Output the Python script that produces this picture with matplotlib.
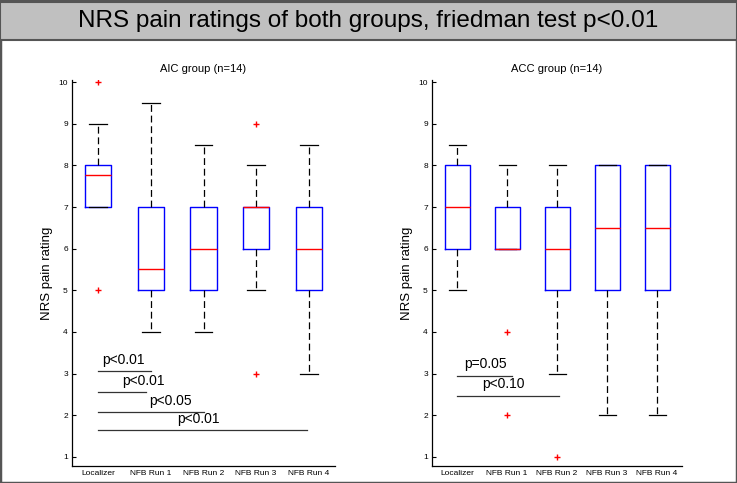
import numpy as np
import matplotlib
matplotlib.use("Agg")
import matplotlib.pyplot as plt
from matplotlib.patches import Rectangle

plt.rcParams['font.family'] = ['Liberation Sans', 'DejaVu Sans']

conditions = ["Localizer", "NFB Run 1", "NFB Run 2", "NFB Run 3", "NFB Run 4"]

# AIC group box statistics
aic_med = [7.77, 5.5, 6.0, 7.0, 6.0]
aic_q1 = [7.0, 5.0, 5.0, 6.0, 5.0]
aic_q3 = [8.0, 7.0, 7.0, 7.0, 7.0]
aic_lo = [7.0, 4.0, 4.0, 5.0, 3.0]
aic_hi = [9.0, 9.5, 8.5, 8.0, 8.5]
aic_out = [[10, 5], [], [], [9, 3], []]

# ACC group box statistics
acc_med = [7.0, 6.0, 6.0, 6.5, 6.5]
acc_q1 = [6.0, 6.0, 5.0, 5.0, 5.0]
acc_q3 = [8.0, 7.0, 7.0, 8.0, 8.0]
acc_lo = [5.0, 6.0, 3.0, 2.0, 2.0]
acc_hi = [8.5, 8.0, 8.0, 8.0, 8.0]
acc_out = [[], [4, 2], [1], [], []]

# significance bars: (x start, x end, line y, label)
aic_sig = [(1, 2, 3.05, "p<0.01"), (1, 1.9, 2.56, "p<0.01"),
           (1, 3, 2.08, "p<0.05"), (1, 4.97, 1.65, "p<0.01")]
aic_sig_txt = [(1.47, 3.33), (1.85, 2.81), (2.38, 2.35), (2.91, 1.92)]
acc_sig = [(1, 2.1, 2.94, "p=0.05"), (1, 3.04, 2.46, "p<0.10")]
acc_sig_txt = [(1.56, 3.24), (1.93, 2.74)]


def make_stats(med, q1, q3, lo, hi, out):
    stats = []
    for i in range(len(med)):
        stats.append(dict(med=med[i], q1=q1[i], q3=q3[i], whislo=lo[i],
                          whishi=hi[i], fliers=out[i]))
    return stats


def draw_panel(ax, stats, sig, sig_txt, title):
    ax.bxp(stats, positions=range(1, 6), widths=0.5, capwidths=0.34,
           showfliers=True,
           boxprops=dict(color='#0000ff', linewidth=1.0),
           medianprops=dict(color='#ff0000', linewidth=1.0),
           whiskerprops=dict(color='black', linewidth=0.9, linestyle=(0, (5.5, 3))),
           capprops=dict(color='black', linewidth=0.9),
           flierprops=dict(marker='+', markeredgecolor='#ff0000', markersize=5,
                           markeredgewidth=1.0, linestyle='none'))
    for (x0, x1, y, lab), (tx, ty) in zip(sig, sig_txt):
        ax.plot([x0, x1], [y, y], color='#333333', lw=0.9)
        ax.text(tx, ty, lab, ha='center', va='center', fontsize=10)
    ax.set_xlim(0.5, 5.5)
    ax.set_ylim(0.78, 10.05)
    ax.set_yticks(range(1, 11))
    ax.set_xticks(range(1, 6))
    ax.set_xticklabels(conditions)
    ax.tick_params(direction='in', length=3, labelsize=6, width=0.8, pad=3)
    ax.tick_params(axis='x', length=0)
    for s in ['top', 'right']:
        ax.spines[s].set_visible(False)
    ax.spines['left'].set_linewidth(0.9)
    ax.spines['bottom'].set_linewidth(0.9)
    ax.set_ylabel("NRS pain rating", fontsize=9.5, labelpad=4)
    ax.set_title(title, fontsize=8, pad=6)


fig = plt.figure(figsize=(7.37, 4.83), dpi=100)

# frame and title bar
fig.patches.append(Rectangle((0, 0), 1, 1, transform=fig.transFigure,
                             facecolor='white', edgecolor='#555555', lw=2.5, zorder=-2))
bar = Rectangle((0, (483 - 40) / 483), 1, 38 / 483, transform=fig.transFigure,
                facecolor='#c0c0c0', edgecolor='#555555', lw=1.5, zorder=-1)
fig.patches.append(bar)
fig.text(0.5, (483 - 21) / 483, "NRS pain ratings of both groups, friedman test p<0.01",
         ha='center', va='center', fontsize=17.5)

ax1 = fig.add_axes([72 / 737, 17 / 483, 263 / 737, 386 / 483])
ax2 = fig.add_axes([432 / 737, 17 / 483, 250 / 737, 386 / 483])

draw_panel(ax1, make_stats(aic_med, aic_q1, aic_q3, aic_lo, aic_hi, aic_out),
           aic_sig, aic_sig_txt, "AIC group (n=14)")
draw_panel(ax2, make_stats(acc_med, acc_q1, acc_q3, acc_lo, acc_hi, acc_out),
           acc_sig, acc_sig_txt, "ACC group (n=14)")

fig.savefig("out.png", dpi=100)
